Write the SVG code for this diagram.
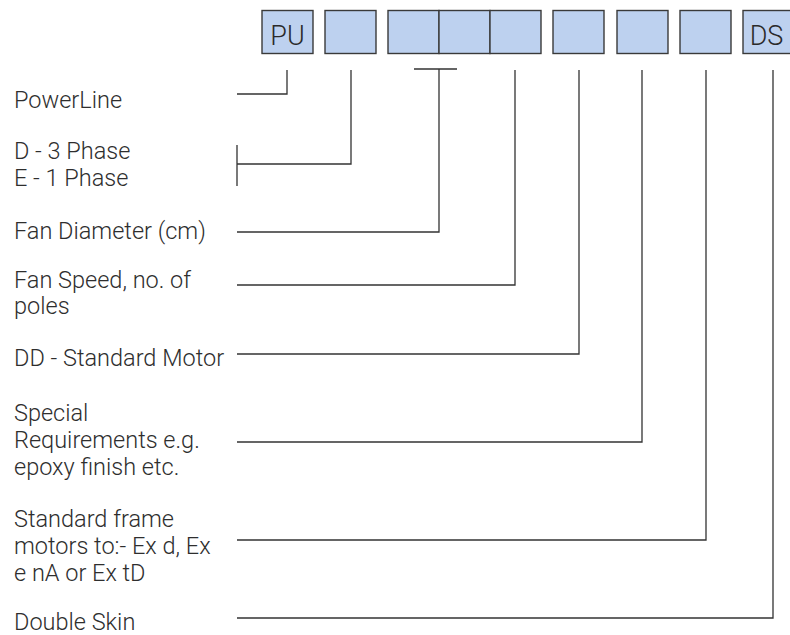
<svg xmlns="http://www.w3.org/2000/svg" width="790" height="635" viewBox="0 0 790 635">
<style>
.box{fill:#bdd1ef;stroke:#3a3a3a;stroke-width:1.4}
.lbl{font-family:Roboto,"Liberation Sans",Arial,sans-serif;font-weight:300;font-size:23.5px;fill:#2e2e2e}
.code{font-family:Roboto,"Liberation Sans",Arial,sans-serif;font-weight:300;font-size:27px;fill:#2a2a2a;text-anchor:middle}
.con{fill:none;stroke:#333;stroke-width:1.3}
</style>
<rect width="790" height="635" fill="#ffffff"/>
<g id="box-pu"><rect class="box" x="262" y="10.5" width="51" height="43"/><text class="code" x="287.5" y="45">PU</text></g>
<g id="box-phase"><rect class="box" x="325" y="10.5" width="51" height="43"/></g>
<g id="box-dia1"><rect class="box" x="388" y="10.5" width="51" height="43"/></g>
<g id="box-dia2"><rect class="box" x="439" y="10.5" width="51" height="43"/></g>
<g id="box-speed"><rect class="box" x="490" y="10.5" width="51" height="43"/></g>
<g id="box-motor"><rect class="box" x="553" y="10.5" width="51" height="43"/></g>
<g id="box-special"><rect class="box" x="617" y="10.5" width="51" height="43"/></g>
<g id="box-exmotor"><rect class="box" x="680" y="10.5" width="51" height="43"/></g>
<g id="box-ds"><rect class="box" x="743" y="10.5" width="51" height="43"/><text class="code" x="766.5" y="45">DS</text></g>

<g id="label-powerline"><text class="lbl" x="14" y="108">PowerLine</text></g>
<g id="label-phase"><text class="lbl" x="14" y="159">D - 3 Phase</text><text class="lbl" x="14" y="186">E - 1 Phase</text></g>
<g id="label-diameter"><text class="lbl" x="14" y="239">Fan Diameter (cm)</text></g>
<g id="label-speed"><text class="lbl" x="14" y="288">Fan Speed, no. of</text><text class="lbl" x="14" y="314">poles</text></g>
<g id="label-motor"><text class="lbl" x="14" y="366">DD - Standard Motor</text></g>
<g id="label-special"><text class="lbl" x="14" y="421">Special</text><text class="lbl" x="14" y="448">Requirements e.g.</text><text class="lbl" x="14" y="475">epoxy finish etc.</text></g>
<g id="label-exmotor"><text class="lbl" x="14" y="527">Standard frame</text><text class="lbl" x="14" y="554">motors to:- Ex d, Ex</text><text class="lbl" x="14" y="581">e nA or Ex tD</text></g>
<g id="label-ds"><text class="lbl" x="14" y="630">Double Skin</text></g>

<g id="connectors">
<path class="con" d="M237 94 H287 V70"/>
<path class="con" d="M237 164 H351 V70 M237 145 V186"/>
<path class="con" d="M237 232 H439 V69 M414 69 H457"/>
<path class="con" d="M237 285 H515 V70"/>
<path class="con" d="M237 354 H579 V70"/>
<path class="con" d="M237 442 H642 V70"/>
<path class="con" d="M237 540 H706 V70"/>
<path class="con" d="M237 618 H773 V70"/>
</g>
</svg>
